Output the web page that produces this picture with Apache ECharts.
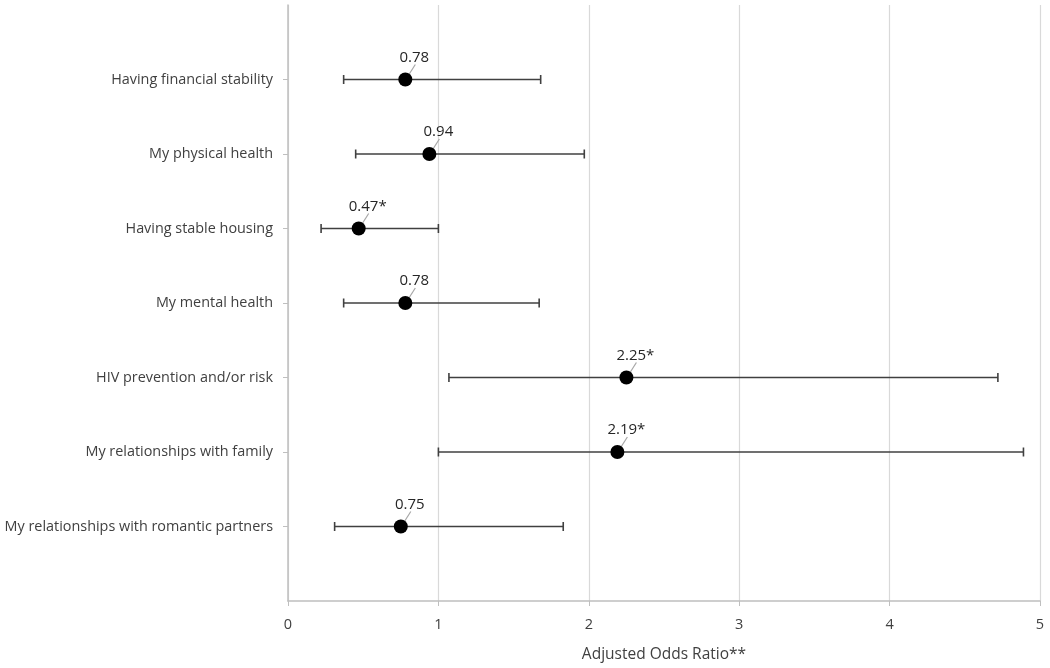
<!DOCTYPE html>
<html><head><meta charset="utf-8">
<script src="https://cdn.jsdelivr.net/npm/echarts@6/dist/echarts.min.js"></script>
<style>html,body{margin:0;padding:0;background:#fff}#c{width:1050px;height:668px}</style>
</head><body><div id="c"></div>
<script>
// top to bottom
const categories = ['Having financial stability','My physical health','Having stable housing','My mental health','HIV prevention and/or risk','My relationships with family','My relationships with romantic partners'];
const oddsRatios = [0.78, 0.94, 0.47, 0.78, 2.25, 2.19, 0.75];
const ciLower = [0.37, 0.45, 0.22, 0.37, 1.07, 1.00, 0.31];
const ciUpper = [1.68, 1.97, 1.00, 1.67, 4.72, 4.89, 1.83];
const pointLabels = ['0.78','0.94','0.47*','0.78','2.25*','2.19*','0.75'];
const xTicks = [0,1,2,3,4,5];

const n = categories.length;
const yPos = categories.map((c,i)=> n - i); // 7..1
const FONT = 'Open Sans';

const chart = echarts.init(document.getElementById('c'));
chart.setOption({
  animation:false,
  textStyle:{fontFamily:FONT},
  grid:{left:288,right:10,top:5,bottom:64,containLabel:false},
  xAxis:{type:'value',min:xTicks[0],max:xTicks[xTicks.length-1],interval:1,
    name:'Adjusted Odds Ratio**',nameLocation:'middle',nameGap:46,
    nameTextStyle:{fontSize:15.5,color:'#404040',fontFamily:FONT},
    axisLine:{show:true,lineStyle:{color:'#bfbfbf',width:1.5}},
    axisTick:{show:true,length:5,lineStyle:{color:'#bfbfbf'}},
    axisLabel:{fontSize:14.5,color:'#404040',margin:16},
    splitLine:{show:true,lineStyle:{color:'#d9d9d9',width:1.2}}},
  yAxis:{type:'value',min:0,max:n+1,interval:1,
    axisLine:{show:true,lineStyle:{color:'#bfbfbf',width:1.5}},
    axisTick:{show:true,length:5,inside:false,customValues:yPos,lineStyle:{color:'#bfbfbf'}},
    axisLabel:{fontSize:14.4,color:'#404040',margin:15,customValues:yPos,
      formatter:v=>{const i=n-v;return categories[i]||'';}},
    splitLine:{show:false}},
  series:[
    {type:'custom',
     data:categories.map((c,i)=>[ciLower[i],ciUpper[i],yPos[i]]),
     renderItem:(params,api)=>{
       const a=api.coord([api.value(0),api.value(2)]);
       const b=api.coord([api.value(1),api.value(2)]);
       const h=4.5;
       const st={stroke:'#404040',lineWidth:1.6};
       return {type:'group',children:[
         {type:'line',shape:{x1:a[0],y1:a[1],x2:b[0],y2:b[1]},style:st},
         {type:'line',shape:{x1:a[0],y1:a[1]-h,x2:a[0],y2:a[1]+h},style:st},
         {type:'line',shape:{x1:b[0],y1:b[1]-h,x2:b[0],y2:b[1]+h},style:st}
       ]};
     },z:2},
    {type:'custom',
     data:categories.map((c,i)=>[oddsRatios[i],yPos[i],i]),
     renderItem:(params,api)=>{
       const p=api.coord([api.value(0),api.value(1)]);
       const i=api.value(2);
       return {type:'group',children:[
         {type:'line',shape:{x1:p[0]+3,y1:p[1]-4,x2:p[0]+10,y2:p[1]-15},style:{stroke:'#a6a6a6',lineWidth:1.2},z2:1},
         {type:'circle',shape:{cx:p[0],cy:p[1],r:7},style:{fill:'#000'},z2:2},
         {type:'text',x:p[0]+9,y:p[1]-22,style:{text:pointLabels[i],fill:'#262626',font:'15px "'+FONT+'"',align:'center',verticalAlign:'middle'},z2:3}
       ]};
     },z:3}
  ]
});
</script></body></html>
